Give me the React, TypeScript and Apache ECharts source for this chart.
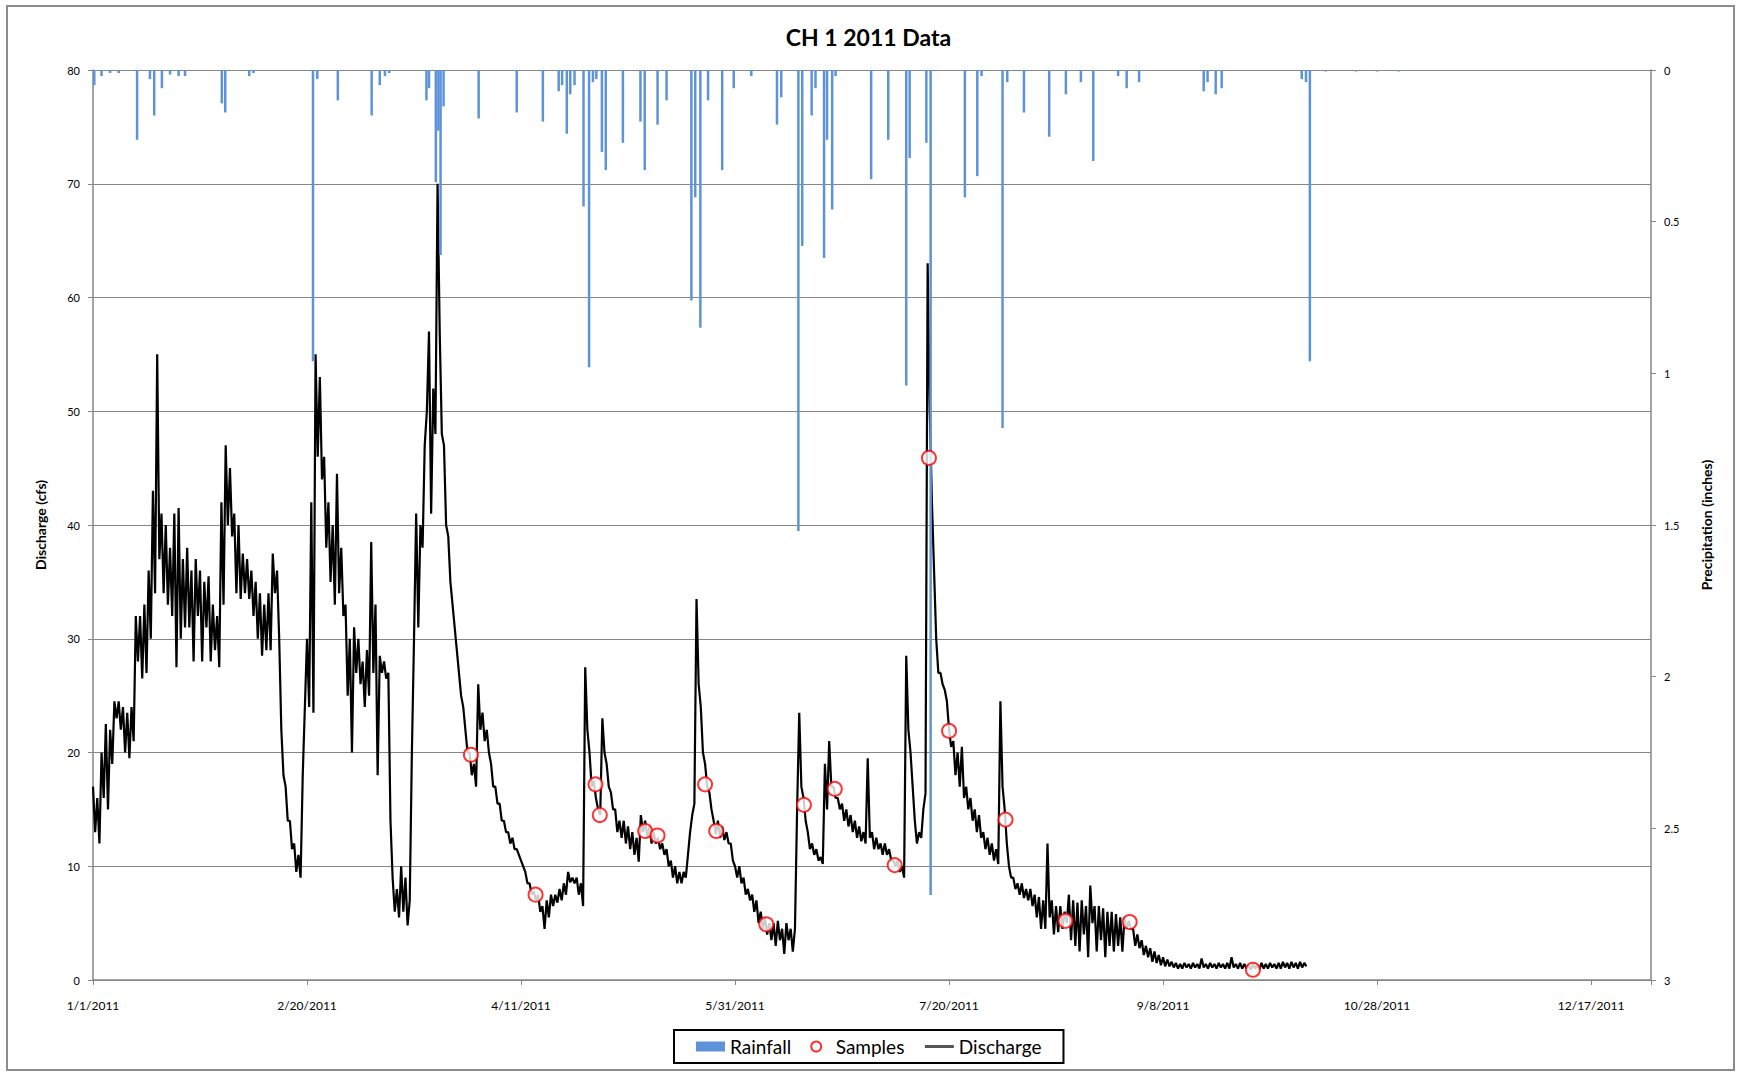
import React, { useEffect, useRef } from "react";
import * as echarts from "echarts";

// ---- Data ----
// x values are days since 1/1/2011
const X_TICK_DATES = ["1/1/2011", "2/20/2011", "4/11/2011", "5/31/2011", "7/20/2011", "9/8/2011", "10/28/2011", "12/17/2011"];
const LEFT_TICKS = [0, 10, 20, 30, 40, 50, 60, 70, 80];
const RIGHT_TICKS = ["0", "0.5", "1", "1.5", "2", "2.5", "3"];

// Discharge (cfs), one value every half day starting on day 0
const DISCHARGE_STEP = 0.5;
const discharge: number[] = [
  17,13, 16,12, 20,16, 22.5,15, 22,19, 24.5,23, 24.5,22, 24,20, 23.5,19.5, 24,21,
  32,28, 32,26.5, 33,27, 36,30, 43,34, 55,37, 41,34, 40,33, 38,32, 41,27.5,
  41.5,30, 37,31, 38,31, 36,28, 37,32, 36,28, 35,31, 35.5,28, 33,29, 32,27.5,
  42,33, 47,40, 45,39, 41,34, 40,33.5, 37.5,34, 37,33.5, 36,32, 35,30, 34,28.5,
  33,29, 34,29, 37.5,34, 36,30, 22,18, 17,14, 14,11.5, 12,9.5, 11,9, 18,24,
  30,24, 42,23.5, 55,46, 53,44, 46,38, 42,35, 40,33, 44.5,34, 38,32, 33,25,
  30,20, 31,27, 30,26, 28,24, 29,25, 38.5,27, 33,18, 28.5,27, 28,26.5, 27,14,
  9,6, 8,5.5, 10,6, 9,4.8, 7,20, 30,41, 31,40, 38,47, 50,57, 41,52,
  48,70, 57,48, 47,40, 39,35, 33,31, 29,27, 25,24, 22,20, 20,18, 19,17,
  26,22, 23.5,21, 22,20, 19,17, 17,15.5, 15.5,14, 14,13, 13,12, 12.5,11.5, 11.5,11,
  10.5,10, 9.5,8.5, 8.5,7.5, 7.8,7, 7.5,6, 6.5,4.5, 7,5.5, 7.5,6.5, 7.5,6.8, 8,7,
  8.5,7.5, 9.5,8.6, 9,8.5, 9,7.5, 8.5,6.5, 27.5,22, 20,17, 17.5,16, 15,14.5, 23,20,
  19,17, 16.5,15, 15,13, 14,12.5, 14,12, 13.5,11.5, 13,11, 12.5,10.4, 14.5,13, 14,12.5,
  13.5,12, 13,12, 12.5,11.5, 12,11, 11.5,10, 10.5,9, 10,8.5, 9.5,8.5, 9.5,9, 11,13,
  14.5,15.5, 33.5,26, 24,20, 19,17, 16.5,15, 14,12.8, 14,12.5, 13.5,12.3, 13,12, 12,10.5,
  10,9, 10,8.5, 9,7.5, 8,7, 7.5,6, 7,5, 6,4.5, 5.5,4, 5,3.5, 5,3,
  5.2,3.5, 4.5,2.3, 5,3.5, 4.5,2.5, 4.5,15, 23.5,17, 16,14, 13,11.5, 12,11, 11.5,10.5,
  10.8,10.2, 19,15, 21,17, 17,16, 16,15, 15.5,14, 15,13.5, 14.5,13, 14,12.5, 13.5,12.2,
  13,12, 19.5,12.5, 13,11.5, 12.5,11.5, 12,11, 12,11, 11.5,10.5, 10.5,10, 10.5,9.5, 10,9,
  28.5,22, 20,17, 14,12, 13,12.5, 15,16.4, 63,50, 42,36, 30,27, 27,26, 25.5,24.5,
  22,20.5, 21,18, 20,17, 20.5,16, 17,15, 16,14, 15,13, 14.5,12.5, 13,11.5, 12.5,11,
  12,10.5, 11.5,10.2, 24.5,17, 15,12, 10,9, 9,8, 8.5,7.5, 8.5,7.2, 8,7, 8,6.5,
  7.5,5.5, 7.3,4.5, 7,4.5, 12,5.5, 7,4, 6.5,4.2, 6.5,4.5, 6,5, 7.5,3.5, 7,3,
  6.8,2.5, 7,4, 6.5,2, 8.3,5, 6.5,2.5, 6.5,3.5, 6.3,2, 6,3, 6,2.5, 5.8,3,
  5.5,2.5, 5.5,4.5, 5.2,4.5, 4.5,3, 4,2.8, 3.5,2.2, 3,2, 2.8,1.6, 2.5,1.5, 2.2,1.3,
  2,1.2, 1.8,1.2, 1.6,1.1, 1.5,1, 1.4,1, 1.5,1.1, 1.4,1, 1.5,1.1, 1.4,1, 1.9,1.1,
  1.4,1, 1.5,1.1, 1.4,1, 1.5,1.1, 1.4,1, 1.5,1, 2,1.1, 1.4,1, 1.5,1, 1.4,1,
  1.3,0.9, 1.4,1, 1.3,0.9, 1.5,1, 1.4,1, 1.5,1.1, 1.4,1, 1.5,1, 1.6,1.1, 1.5,1,
  1.6,1.1, 1.5,1, 1.6,1.1, 1.5,1.2,
];

// Samples: [day, discharge cfs]
const samples: [number, number][] = [
  [88.3, 19.8], [103.4, 7.5], [117.4, 17.2], [118.4, 14.5], [129, 13.1], [131.9, 12.7],
  [143, 17.2], [145.6, 13.1], [157.3, 4.9], [166.1, 15.4], [173.3, 16.8], [187.3, 10.1],
  [195.3, 45.9], [200, 21.9], [213.2, 14.1], [227.2, 5.2], [242.2, 5.1], [271, 0.9],
];

// Rainfall: [day, inches]
const rainfall: [number, number][] = [
  [0.3, 0.05], [2, 0.02], [4, 0.01], [6, 0.01], [10.3, 0.23], [13.3, 0.03], [14.3, 0.15], [16.1, 0.06],
  [18, 0.015], [20, 0.02], [21.5, 0.02], [30.1, 0.11], [30.9, 0.14], [36.5, 0.02], [37.5, 0.01],
  [51.4, 0.96], [52.4, 0.03], [57.2, 0.1], [65.1, 0.15], [67, 0.05], [68.2, 0.02], [69.2, 0.01],
  [77.9, 0.1], [78.5, 0.06], [80.1, 0.37], [80.7, 0.2], [81.2, 0.61], [81.9, 0.12], [90.1, 0.16],
  [99, 0.14], [105.1, 0.17], [108.8, 0.07], [109.6, 0.05], [110.7, 0.21], [111.5, 0.08], [112.5, 0.05],
  [114.6, 0.45], [115.9, 0.98], [116.8, 0.04], [117.6, 0.03], [118.9, 0.27], [119.8, 0.33], [123.8, 0.24],
  [127.9, 0.17], [128.9, 0.33], [131.9, 0.18], [134, 0.1], [139.8, 0.76], [140.7, 0.42], [141.9, 0.85],
  [143.7, 0.1], [147, 0.33], [149.7, 0.06], [153.8, 0.02], [159.8, 0.18], [160.8, 0.09], [164.8, 1.52],
  [165.7, 0.58], [167.9, 0.15], [168.8, 0.06], [170.8, 0.62], [171.5, 0.23], [172.7, 0.46], [173.5, 0.02],
  [181.8, 0.36], [185.8, 0.23], [190, 1.04], [190.8, 0.29], [194.7, 0.24], [195.7, 2.72], [203.7, 0.42],
  [206.6, 0.35], [207.6, 0.02], [212.5, 1.18], [213.6, 0.04], [217.5, 0.14], [223.4, 0.22], [227.3, 0.08],
  [230.8, 0.04], [233.7, 0.3], [239.5, 0.02], [241.5, 0.06], [244.4, 0.04], [259.5, 0.07], [260.4, 0.04],
  [262.3, 0.08], [263.7, 0.06], [282.4, 0.03], [283.4, 0.04], [284.3, 0.96], [288, 0.005], [295, 0.005],
  [300, 0.005], [305, 0.005],
];

const FONT = "Lato, 'Open Sans', 'Liberation Sans', sans-serif";
const GRID_GRAY = "#868686";

export default function App() {
  const ref = useRef<HTMLDivElement>(null);

  useEffect(() => {
    if (!ref.current) return;
    const chart = echarts.init(ref.current, undefined, { renderer: "svg" });
    const dischargeData = discharge.map((v, i) => [i * DISCHARGE_STEP, v]);

    chart.setOption({
      animation: false,
      backgroundColor: "#ffffff",
      textStyle: { fontFamily: FONT },
      title: {
        text: "CH 1 2011 Data",
        left: "center",
        top: 20,
        textStyle: { fontFamily: FONT, fontSize: 23, fontWeight: "bold", color: "#000" },
      },
      graphic: [
        {
          type: "rect",
          silent: true,
          z: -10,
          shape: { x: 7, y: 6, width: 1727, height: 1064 },
          style: { fill: "none", stroke: "#8c8c8c", lineWidth: 2 },
        },
      ],
      grid: { left: 93, right: 86, top: 70, bottom: 93, containLabel: false },
      legend: {
        left: 674,
        top: 1030,
        padding: [7, 22, 7, 22],
        borderColor: "#000",
        borderWidth: 2,
        itemGap: 19,
        itemWidth: 29,
        itemHeight: 10,
        textStyle: { fontFamily: FONT, fontSize: 19, color: "#000" },
        data: [
          { name: "Rainfall", icon: "rect" },
          { name: "Samples" },
          { name: "Discharge", itemStyle: { opacity: 0 }, lineStyle: { color: "#555555", width: 3 } },
        ],
      },
      xAxis: {
        type: "value",
        min: 0,
        max: 364,
        interval: 50,
        splitLine: { show: false },
        axisLine: { lineStyle: { color: GRID_GRAY, width: 1.5 } },
        axisTick: { show: true, length: 5, lineStyle: { color: GRID_GRAY } },
        axisLabel: {
          margin: 19,
          fontSize: 12,
          color: "#000",
          fontFamily: FONT,
          formatter: (v: number) => (v % 50 === 0 ? X_TICK_DATES[v / 50] ?? "" : ""),
        },
      },
      yAxis: [
        {
          type: "value",
          min: LEFT_TICKS[0],
          max: LEFT_TICKS[LEFT_TICKS.length - 1],
          interval: 10,
          name: "Discharge (cfs)",
          nameLocation: "middle",
          nameRotate: 90,
          nameGap: 46,
          nameTextStyle: { fontFamily: FONT, fontSize: 14, fontWeight: "bold", color: "#000" },
          axisLine: { show: true, lineStyle: { color: GRID_GRAY, width: 1.5 } },
          axisTick: { show: true, length: 5, lineStyle: { color: GRID_GRAY } },
          axisLabel: { fontSize: 11, color: "#000", margin: 13, fontFamily: FONT },
          splitLine: { show: true, lineStyle: { color: GRID_GRAY, width: 1.2 } },
        },
        {
          type: "value",
          min: 0,
          max: 3,
          interval: 0.5,
          inverse: true,
          position: "right",
          name: "Precipitation (inches)",
          nameLocation: "middle",
          nameRotate: 90,
          nameGap: 48,
          nameTextStyle: { fontFamily: FONT, fontSize: 14, fontWeight: "bold", color: "#000" },
          axisLine: { show: true, lineStyle: { color: GRID_GRAY, width: 1.5 } },
          axisTick: { show: true, length: 5, lineStyle: { color: GRID_GRAY } },
          axisLabel: {
            fontSize: 11,
            color: "#000",
            margin: 13,
            fontFamily: FONT,
            formatter: (v: number) => RIGHT_TICKS[Math.round(v * 2)] ?? "",
          },
          splitLine: { show: false },
        },
      ],
      series: [
        {
          name: "Discharge",
          type: "line",
          yAxisIndex: 0,
          data: dischargeData,
          symbol: "none",
          lineStyle: { color: "#000000", width: 2.2 },
          itemStyle: { color: "#000000" },
          z: 2,
        },
        {
          name: "Rainfall",
          type: "bar",
          yAxisIndex: 1,
          data: rainfall,
          barWidth: 2.5,
          itemStyle: { color: "#5E93DA" },
          z: 3,
        },
        {
          name: "Samples",
          type: "scatter",
          yAxisIndex: 0,
          data: samples,
          symbol: "emptyCircle",
          symbolSize: 14,
          itemStyle: { color: "#FF0000", borderColor: "#FF0000", borderWidth: 1.5 },
          z: 4,
        },
      ],
    });

    return () => chart.dispose();
  }, []);

  return (
    <div
      ref={ref}
      style={{ position: "absolute", left: 0, top: 0, width: 1737, height: 1073, background: "#fff" }}
    />
  );
}
